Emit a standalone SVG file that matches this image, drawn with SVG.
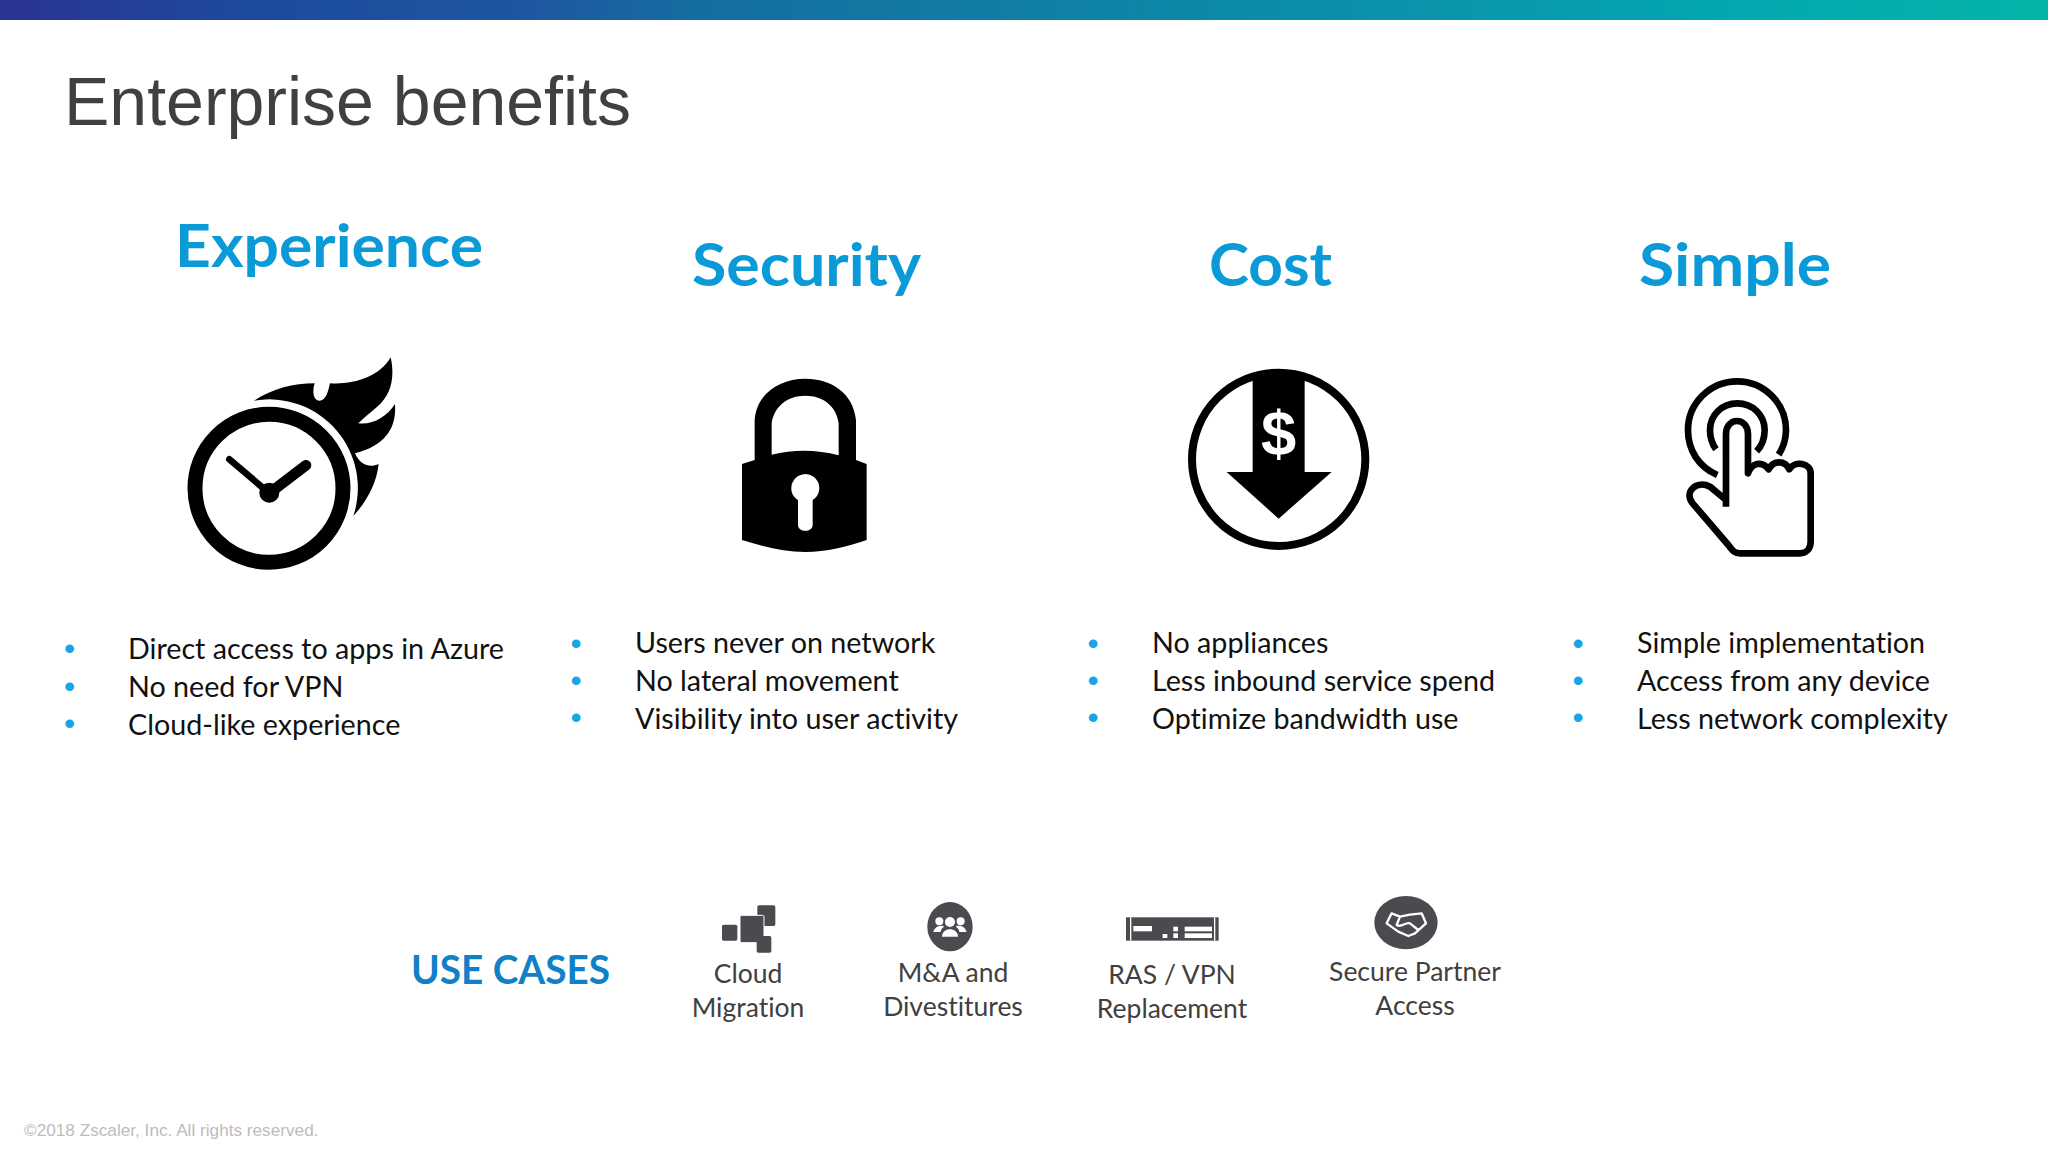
<svg xmlns="http://www.w3.org/2000/svg" width="2048" height="1152" viewBox="0 0 2048 1152">
<defs>
<linearGradient id="bar" x1="0" y1="0" x2="1" y2="0"><stop offset="0" stop-color="#2a3490"/><stop offset="0.12" stop-color="#1d4a9c"/><stop offset="0.25" stop-color="#1f55a0"/><stop offset="0.34" stop-color="#156da0"/><stop offset="0.68" stop-color="#0a92ac"/><stop offset="0.85" stop-color="#03a8b0"/><stop offset="1" stop-color="#03b5a8"/></linearGradient>
</defs>
<style>
text{font-family:Lato,"Open Sans","Noto Sans",sans-serif;font-variant-ligatures:none}
.title{font-family:"Liberation Sans",Arial,sans-serif;font-size:68px;fill:#404040}
.head{font-size:60px;font-weight:700;fill:#0a9ad7}
.body{font-size:28.7px;fill:#111}
.bul{font-family:"Liberation Sans",sans-serif;font-size:32px;fill:#18a4e6;text-anchor:middle}
.uc{font-size:26.5px;fill:#404040;text-anchor:middle}
.dark{fill:#4a4a4f}
.k{fill:#000}
.w{fill:#fff}
</style>
<rect width="2048" height="1152" fill="#fff"/>
<rect width="2048" height="20" fill="url(#bar)"/>
<text class="title" x="64" y="125">Enterprise benefits</text>

<g id="experience">
<text class="head" x="175" y="267" textLength="308" lengthAdjust="spacingAndGlyphs">Experience</text>
<g transform="translate(150,330) scale(.3333)">
<circle cx="357" cy="475" r="222" fill="none" stroke="#000" stroke-width="45"/>
<path class="k" d="M312 212C370 175 430 160 494 160C486 185 490 213 510 212C530 210 535 180 540 160C610 165 690 140 722 82C735 140 725 195 680 232C660 250 640 265 625 280C670 285 710 260 735 222C740 290 710 345 615 370C630 405 660 415 686 402C680 460 650 515 610 558A266 266 0 0 0 312 212Z"/>
<path fill="none" stroke="#000" stroke-width="20" stroke-linecap="round" d="M238 388L358 490"/>
<path fill="none" stroke="#000" stroke-width="32" stroke-linecap="round" d="M358 490L468 406"/>
<circle class="k" cx="358" cy="488" r="30"/>
</g>
<text class="bul" x="69.500" y="659">•</text><text class="bul" x="69.500" y="697">•</text><text class="bul" x="69.500" y="734">•</text>
<text class="body" x="128" y="659">Direct access to apps in Azure</text>
<text class="body" x="128" y="697">No need for VPN</text>
<text class="body" x="128" y="735">Cloud-like experience</text>
</g>

<g id="security">
<text class="head" x="692" y="286" textLength="229" lengthAdjust="spacingAndGlyphs">Security</text>
<g transform="translate(700,350) scale(.3333)">
<path class="k" fill-rule="evenodd" d="M164 330V210C170 130 240 86 316 86C395 86 460 130 468 210V330L500 342V570C440 590 380 606 316 606C250 606 190 590 126 570V342ZM215 314C280 298 350 298 416 316V220C410 170 370 137 316 137C262 137 222 170 215 220Z"/>
<path class="w" d="M274 416A42 42 0 1 1 338 450V525C338 548 294 548 294 525V450C282 442 274 430 274 416Z"/>
</g>
<text class="bul" x="576" y="653.500">•</text><text class="bul" x="576" y="691">•</text><text class="bul" x="576" y="728">•</text>
<text class="body" x="635" y="653">Users never on network</text>
<text class="body" x="635" y="691">No lateral movement</text>
<text class="body" x="635" y="729">Visibility into user activity</text>
</g>

<g id="cost">
<text class="head" x="1209" y="286" textLength="123" lengthAdjust="spacingAndGlyphs">Cost</text>
<g transform="translate(1170,350) scale(.3333)">
<circle cx="326" cy="328" r="260" fill="none" stroke="#000" stroke-width="24"/>
<path class="k" d="M248 75H404V366H485L326 506L170 366H248Z"/>
<text x="326" y="316" text-anchor="middle" style="font-family:'Liberation Sans',sans-serif;font-size:190px;font-weight:700;fill:#fff">$</text>
</g>
<text class="bul" x="1093" y="653.500">•</text><text class="bul" x="1093" y="691">•</text><text class="bul" x="1093" y="728">•</text>
<text class="body" x="1152" y="653">No appliances</text>
<text class="body" x="1152" y="691">Less inbound service spend</text>
<text class="body" x="1152" y="729">Optimize bandwidth use</text>
</g>

<g id="simple">
<text class="head" x="1639" y="286" textLength="192" lengthAdjust="spacingAndGlyphs">Simple</text>
<g transform="translate(1660,360) scale(.3333)" fill="none" stroke="#000" stroke-width="20">
<path d="M172 345C115 320 84 270 84 210C84 130 150 64 232 64C312 64 378 130 378 210C378 238 370 262 356 284"/>
<path d="M168 268C155 250 150 230 150 210C150 165 186 130 232 130C278 130 314 165 314 210C314 235 305 258 290 274"/>
<path stroke-linejoin="round" d="M198 440V222C198 170 264 170 264 222V340C275 310 305 300 326 328C340 300 375 300 388 328C405 300 452 310 452 340V545C452 570 435 580 420 580H240C225 580 220 575 205 555L98 430C70 395 110 360 150 380L198 420"/>
</g>
<text class="bul" x="1578" y="653.500">•</text><text class="bul" x="1578" y="691">•</text><text class="bul" x="1578" y="728">•</text>
<text class="body" x="1637" y="653">Simple implementation</text>
<text class="body" x="1637" y="691">Access from any device</text>
<text class="body" x="1637" y="729">Less network complexity</text>
</g>

<g id="use-cases">
<text x="411" y="984" textLength="199" lengthAdjust="spacingAndGlyphs" style="font-size:40px;font-weight:700;fill:#1080c8">USE CASES</text>
</g>
<g id="cloud-migration">
<g transform="translate(700,880) scale(.3333)" class="dark">
<rect x="172" y="76" width="54" height="62" rx="5"/><rect x="120" y="106" width="72" height="82" rx="5" stroke="#fff" stroke-width="3"/><rect x="66" y="134" width="46" height="48" rx="5"/><rect x="170" y="168" width="44" height="50" rx="5"/>
</g>
<text class="uc" x="748" y="983">Cloud</text><text class="uc" x="748" y="1017">Migration</text>
</g>
<g id="ma-divestitures">
<g transform="translate(700,880) scale(.3333)">
<ellipse class="dark" cx="750" cy="140" rx="68" ry="74"/>
<g class="w"><circle cx="718" cy="124" r="12"/><circle cx="782" cy="124" r="12"/><circle cx="750" cy="126" r="15"/><path d="M700 156C705 135 730 135 732 140C724 146 722 150 722 156ZM800 156C795 135 770 135 768 140C776 146 778 150 778 156Z"/><path d="M726 170C726 140 774 140 774 170Z"/></g>
</g>
<text class="uc" x="953" y="982">M&amp;A and</text><text class="uc" x="953" y="1016">Divestitures</text>
</g>
<g id="ras-vpn">
<g transform="translate(1100,880) scale(.3333)">
<rect class="dark" x="78" y="112" width="278" height="70"/>
<g class="w"><rect x="100" y="138" width="56" height="16"/><rect x="188" y="162" width="14" height="12"/><rect x="220" y="140" width="14" height="14"/><rect x="220" y="160" width="14" height="14"/>
<rect x="254" y="140" width="82" height="14"/><rect x="254" y="160" width="82" height="14"/><rect x="90" y="112" width="4" height="70"/><rect x="342" y="112" width="4" height="70"/></g>
</g>
<text class="uc" x="1172" y="984">RAS / VPN</text><text class="uc" x="1172" y="1018">Replacement</text>
</g>
<g id="secure-partner">
<g transform="translate(1100,880) scale(.3333)">
<ellipse class="dark" cx="918" cy="128" rx="95" ry="80"/>
<path fill="none" stroke="#fff" stroke-width="7" stroke-linejoin="round" d="M860 130L875 100L900 110L930 104L965 100L978 130L945 160L925 168L895 155ZM900 110L890 135C905 145 915 125 930 130L955 150"/>
</g>
<text class="uc" x="1415" y="981">Secure Partner</text><text class="uc" x="1415" y="1015">Access</text>
</g>
<text x="24" y="1136" style="font-family:'Liberation Sans',sans-serif;font-size:17.2px;fill:#bcbcbc">©2018 Zscaler, Inc. All rights reserved.</text>
</svg>
